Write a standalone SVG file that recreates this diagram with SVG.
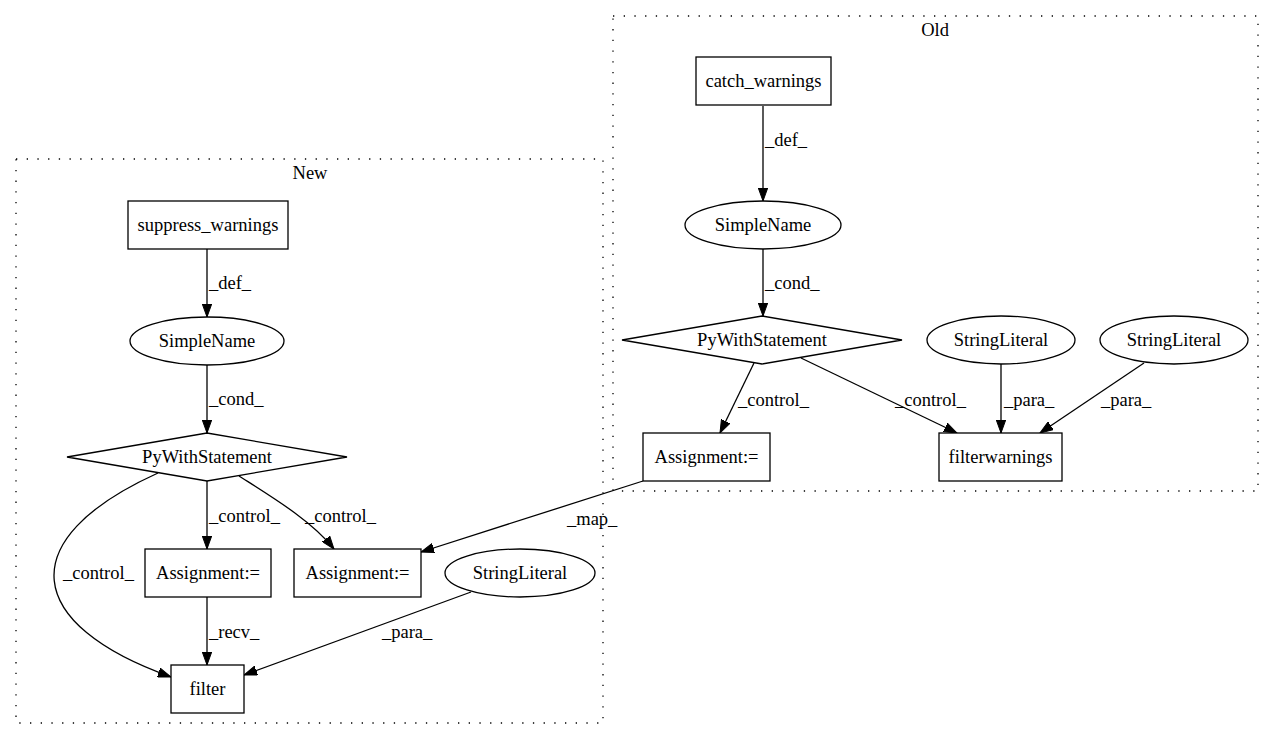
<svg xmlns="http://www.w3.org/2000/svg" width="1275" height="740" viewBox="0 0 1275 740">
<style>
text{font-family:"Liberation Serif","Times New Roman",serif;font-size:18.5px;fill:#000}
.n{text-anchor:middle}
.shape{fill:#fff;stroke:#000;stroke-width:1.3}
.cl{fill:none;stroke:#000;stroke-width:1.3;stroke-dasharray:1.3,9.4}
.e{fill:none;stroke:#000;stroke-width:1.3;marker-end:url(#arr)}
</style>
<defs>
<marker id="arr" markerUnits="userSpaceOnUse" markerWidth="14" markerHeight="10" refX="13" refY="5" orient="auto">
<path d="M0,0.3 L13,5 L0,9.7 z" fill="#000" stroke="#000" stroke-width="1"/>
</marker>
</defs>
<rect width="1275" height="740" fill="#fff"/>
<g id="cluster-new">
<rect class="cl" x="16" y="159" width="587" height="564"/>
<text class="n" x="310" y="179">New</text>
</g>
<g id="cluster-old">
<rect class="cl" x="613" y="16" width="645" height="475"/>
<text class="n" x="935" y="36">Old</text>
</g>
<g id="connectors">
<path class="e" d="M207,249 L207,317"/>
<text x="209" y="289">_def_</text>
<path class="e" d="M207,365 L207,433"/>
<text x="209" y="405">_cond_</text>
<path class="e" d="M207,481 L207,549"/>
<text x="209" y="522">_control_</text>
<path class="e" d="M239,476 C272,497 312,521 334,549"/>
<text x="305" y="522">_control_</text>
<path class="e" d="M158,473 C10,540 25,625 171,677"/>
<text x="63" y="579">_control_</text>
<path class="e" d="M207,597 L207,665"/>
<text x="209" y="638">_recv_</text>
<path class="e" d="M471,592 L244,675"/>
<text x="382" y="638">_para_</text>
<path class="e" d="M643,481 L421,552"/>
<text x="567" y="525">_map_</text>
<path class="e" d="M763,106 L763,201"/>
<text x="765" y="146">_def_</text>
<path class="e" d="M763,249 L763,316"/>
<text x="765" y="289">_cond_</text>
<path class="e" d="M754,363 L720,433"/>
<text x="738" y="406">_control_</text>
<path class="e" d="M801,358 L957,433"/>
<text x="895" y="406">_control_</text>
<path class="e" d="M1001,364 L1001,433"/>
<text x="1004" y="406">_para_</text>
<path class="e" d="M1144,363 L1040,433"/>
<text x="1101" y="406">_para_</text>
</g>
<g id="n-suppress_warnings">
<rect class="shape" x="128" y="201" width="160" height="48"/>
<text class="n" x="208" y="231">suppress_warnings</text>
</g>
<g id="n-new-simplename">
<ellipse class="shape" cx="207" cy="341" rx="77" ry="24"/>
<text class="n" x="207" y="347">SimpleName</text>
</g>
<g id="n-new-pywith">
<polygon class="shape" points="67,457 207,433 347,457 207,481"/>
<text class="n" x="207" y="463">PyWithStatement</text>
</g>
<g id="n-new-assign1">
<rect class="shape" x="145" y="549" width="126" height="48"/>
<text class="n" x="208" y="579">Assignment:=</text>
</g>
<g id="n-new-assign2">
<rect class="shape" x="294" y="549" width="127" height="48"/>
<text class="n" x="357.5" y="579">Assignment:=</text>
</g>
<g id="n-new-stringliteral">
<ellipse class="shape" cx="520" cy="573" rx="75" ry="24"/>
<text class="n" x="520" y="579">StringLiteral</text>
</g>
<g id="n-filter">
<rect class="shape" x="171" y="665" width="73" height="48"/>
<text class="n" x="207.5" y="695">filter</text>
</g>
<g id="n-catch_warnings">
<rect class="shape" x="696" y="57" width="135" height="48"/>
<text class="n" x="763.5" y="87">catch_warnings</text>
</g>
<g id="n-old-simplename">
<ellipse class="shape" cx="763" cy="225" rx="78" ry="24"/>
<text class="n" x="763" y="231">SimpleName</text>
</g>
<g id="n-old-pywith">
<polygon class="shape" points="622,340 762,316 902,340 762,364"/>
<text class="n" x="762" y="346">PyWithStatement</text>
</g>
<g id="n-old-stringliteral1">
<ellipse class="shape" cx="1001" cy="340" rx="74" ry="24"/>
<text class="n" x="1001" y="346">StringLiteral</text>
</g>
<g id="n-old-stringliteral2">
<ellipse class="shape" cx="1174" cy="340" rx="74" ry="24"/>
<text class="n" x="1174" y="346">StringLiteral</text>
</g>
<g id="n-old-assign">
<rect class="shape" x="643" y="433" width="127" height="48"/>
<text class="n" x="706.5" y="463">Assignment:=</text>
</g>
<g id="n-filterwarnings">
<rect class="shape" x="939" y="433" width="123" height="48"/>
<text class="n" x="1000.5" y="463">filterwarnings</text>
</g>
</svg>
